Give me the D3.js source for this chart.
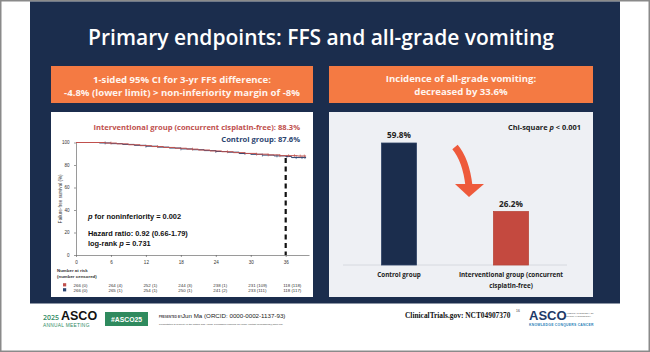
<!DOCTYPE html>
<html>
<head>
<meta charset="utf-8">
<script src="https://cdn.jsdelivr.net/npm/d3@7"></script>
<style>
  html, body { margin: 0; padding: 0; background: #fff; }
  svg { display: block; }
</style>
</head>
<body>
<div id="chart"></div>
<script>
// ---- data ----
const kmMonths = [0, 6, 12, 18, 24, 30, 36];
const kmYTicks = [0, 20, 40, 60, 80, 100];
// step points (month, survival %)
const intTimes = [0, 5, 7, 9, 11, 13, 15, 17, 19, 21, 23, 25, 27, 29, 31, 33, 35, 38, 39.5];
const intSurv = [100, 99.5, 98.8, 98, 97.2, 96.4, 95.6, 94.9, 94.1, 93.3, 92.5, 91.8, 91, 90.3, 89.6, 89, 88.3, 88, 88];
const ctlTimes = [0, 4, 6, 8, 10, 12, 14, 16, 18, 20, 22, 24, 26, 28, 30, 32, 34, 36, 37, 39.5];
const ctlSurv = [100, 99.6, 99, 98.3, 97.5, 96.7, 95.9, 95.1, 94.3, 93.6, 92.8, 92, 91.4, 90.2, 89.5, 88.8, 88.1, 87.6, 86.6, 86.6];
const intCensor = [6, 14, 20, 26, 31, 33, 35, 36.5, 37.5, 38.5, 39.2];
const ctlCensor = [5, 12, 18, 24, 29, 32, 34.5, 36.2, 37.8, 38.8, 39.3];
const riskInt = [266, 264, 252, 244, 238, 231, 118];
const censInt = [0, 4, 1, 3, 1, 109, 118];
const riskCtl = [266, 265, 254, 250, 241, 233, 118];
const censCtl = [0, 1, 1, 1, 2, 111, 117];

const barGroups = ["Control group", "Interventional group (concurrent cisplatin-free)"];
const barValues = [59.8, 26.2];

// ---- colours ----
const navy = "#1b2d4d";
const orange = "#f47a43";
const red = "#c4493f";
const kmRed = "#c0504d";
const kmNavy = "#2b4470";

const W = 650, H = 352;
const svg = d3.select("#chart").append("svg").attr("width", W).attr("height", H);
const FONT = "'Open Sans', 'Noto Sans', sans-serif";
const SANS = "'Liberation Sans', Arial, sans-serif";

svg.append("rect").attr("x", 0.75).attr("y", 0.75).attr("width", W - 1.5).attr("height", H - 1.5)
  .attr("fill", "#fff").attr("stroke", "#8a8a8a").attr("stroke-width", 1.5);
svg.append("rect").attr("x", 30).attr("y", 1.5).attr("width", 590).attr("height", 302).attr("fill", navy);

// title
svg.append("text").attr("x", 321).attr("y", 45).attr("text-anchor", "middle")
  .attr("font-family", FONT).attr("font-weight", 600).attr("font-size", 21).attr("fill", "#fff")
  .text("Primary endpoints: FFS and all-grade vomiting");

// orange header boxes
const boxes = [
  { x: 51, w: 262, lines: ["1-sided 95% CI for 3-yr FFS difference:", "-4.8% (lower limit) > non-inferiority margin of -8%"], ys: [82.5, 95.5] },
  { x: 329, w: 264, lines: ["Incidence of all-grade vomiting:", "decreased by 33.6%"], ys: [81.5, 94.5] }
];
boxes.forEach(b => {
  const g = svg.append("g");
  g.append("rect").attr("x", b.x).attr("y", 66).attr("width", b.w).attr("height", 37).attr("fill", orange);
  b.lines.forEach((t, i) => {
    g.append("text").attr("x", b.x + b.w / 2).attr("y", b.ys[i]).attr("text-anchor", "middle")
      .attr("font-family", FONT).attr("font-weight", 700).attr("font-size", 9.6).attr("fill", "#fff4ee")
      .text(t);
  });
});

// panels
svg.append("rect").attr("x", 51).attr("y", 112).attr("width", 262).attr("height", 185).attr("fill", "#fff");
svg.append("rect").attr("x", 329).attr("y", 112).attr("width", 264).attr("height", 185).attr("fill", "#eef0f4");

// ---- KM plot ----
const x = d3.scaleLinear().domain([0, 40]).range([76, 309]);
const y = d3.scaleLinear().domain([0, 100]).range([255, 142.5]);

const km = svg.append("g");
km.append("g").attr("transform", `translate(0,${y(0)})`)
  .call(d3.axisBottom(x).tickValues(kmMonths).tickSize(2).tickSizeOuter(0))
  .call(g => g.select(".domain").attr("stroke", "#555").attr("stroke-width", 0.6))
  .call(g => g.selectAll(".tick line").attr("stroke", "#555").attr("stroke-width", 0.6))
  .call(g => g.selectAll("text").attr("font-size", 4.6).attr("font-family", SANS).attr("fill", "#333").attr("dy", "0.9em"));
km.append("g").attr("transform", `translate(${x(0)},0)`)
  .call(d3.axisLeft(y).tickValues(kmYTicks).tickSize(2).tickSizeOuter(0))
  .call(g => g.select(".domain").attr("stroke", "#555").attr("stroke-width", 0.6))
  .call(g => g.selectAll(".tick line").attr("stroke", "#555").attr("stroke-width", 0.6))
  .call(g => g.selectAll("text").attr("font-size", 4.6).attr("font-family", SANS).attr("fill", "#333").attr("dx", "-0.3em"));
km.append("text").attr("transform", `translate(62,${y(50)}) rotate(-90)`).attr("text-anchor", "middle")
  .attr("font-family", SANS).attr("font-size", 4.6).attr("fill", "#333").text("Failure-free survival (%)");

// dashed 36-month line
km.append("line").attr("x1", x(36)).attr("x2", x(36)).attr("y1", y(89) + 3).attr("y2", y(0))
  .attr("stroke", "#111").attr("stroke-width", 2.2).attr("stroke-dasharray", "5,3.5");

const step = d3.line().x(d => x(d[0])).y(d => y(d[1])).curve(d3.curveStepAfter);
const stepAt = (times, surv, t) => surv[d3.bisectRight(times, t) - 1];
[[ctlTimes, ctlSurv, ctlCensor, kmNavy], [intTimes, intSurv, intCensor, kmRed]].forEach(([t, s, c, col]) => {
  km.append("path").attr("d", step(d3.zip(t, s))).attr("fill", "none").attr("stroke", col).attr("stroke-width", 1);
  km.selectAll(null).data(c).join("line")
    .attr("x1", d => x(d)).attr("x2", d => x(d))
    .attr("y1", d => y(stepAt(t, s, d)) - 1.5).attr("y2", d => y(stepAt(t, s, d)) + 1.5)
    .attr("stroke", col).attr("stroke-width", 0.6);
});

// group legend text
km.append("text").attr("x", 300).attr("y", 130).attr("text-anchor", "end")
  .attr("font-family", FONT).attr("font-weight", 700).attr("font-size", 7.6).attr("fill", kmRed)
  .text("Interventional group (concurrent cisplatin-free): 88.3%");
km.append("text").attr("x", 300).attr("y", 142).attr("text-anchor", "end")
  .attr("font-family", FONT).attr("font-weight", 700).attr("font-size", 7.6).attr("fill", kmNavy)
  .text("Control group: 87.6%");

// stats annotations
const ann = km.append("g").attr("font-family", SANS).attr("font-weight", 700).attr("font-size", 7.4).attr("fill", "#111");
const a1 = ann.append("text").attr("x", 88).attr("y", 219);
a1.append("tspan").attr("font-style", "italic").text("p");
a1.append("tspan").text(" for noninferiority = 0.002");
ann.append("text").attr("x", 88).attr("y", 236).text("Hazard ratio: 0.92 (0.66-1.79)");
const a3 = ann.append("text").attr("x", 88).attr("y", 246);
a3.append("tspan").text("log-rank ");
a3.append("tspan").attr("font-style", "italic").text("p");
a3.append("tspan").text(" = 0.731");

// number at risk
const nar = km.append("g").attr("font-family", SANS).attr("font-size", 4.4).attr("fill", "#333");
nar.append("text").attr("x", 57).attr("y", 271.5).attr("font-weight", 700).text("Number at risk");
nar.append("text").attr("x", 57).attr("y", 277.5).attr("font-weight", 700).text("(number censored)");
[[riskInt, censInt, kmRed, 286.5], [riskCtl, censCtl, kmNavy, 291.5]].forEach(([r, c, col, yy]) => {
  nar.append("rect").attr("x", 63).attr("y", yy - 3.3).attr("width", 3.2).attr("height", 3.2).attr("fill", col);
  nar.selectAll(null).data(kmMonths).join("text")
    .attr("x", d => x(d) - 2.5).attr("y", yy)
    .text((d, i) => `${r[i]} (${c[i]})`);
});

// ---- bar chart ----
const bx = d3.scalePoint().domain(barGroups).range([343, 567]).padding(0.5);
const by = d3.scaleLinear().domain([0, 100]).range([265, 61]);
const bw = 35;
const bars = svg.append("g");
bars.append("line").attr("x1", 343).attr("x2", 567).attr("y1", by(0)).attr("y2", by(0))
  .attr("stroke", "#cfd3da").attr("stroke-width", 0.8);
bars.selectAll("rect").data(barValues).join("rect")
  .attr("x", (d, i) => bx(barGroups[i]) - bw / 2).attr("width", bw)
  .attr("y", d => by(d)).attr("height", d => by(0) - by(d))
  .attr("fill", (d, i) => i === 0 ? navy : red)
  .attr("stroke", (d, i) => i === 0 ? "#2e4366" : "#b9473a").attr("stroke-width", 0.8);
bars.selectAll(".val").data(barValues).join("text").attr("class", "val")
  .attr("x", (d, i) => bx(barGroups[i])).attr("y", d => by(d) - 5).attr("text-anchor", "middle")
  .attr("font-family", FONT).attr("font-weight", 700).attr("font-size", 8.2).attr("fill", "#222")
  .text(d => d.toFixed(1) + "%");
// category labels (second one wraps)
const catLines = [["Control group"], ["Interventional group (concurrent", "cisplatin-free)"]];
barGroups.forEach((g, i) => {
  catLines[i].forEach((t, j) => {
    bars.append("text").attr("x", bx(g)).attr("y", 277 + j * 11).attr("text-anchor", "middle")
      .attr("font-family", FONT).attr("font-weight", 700).attr("font-size", 6.3).attr("fill", "#222").text(t);
  });
});
const chi = bars.append("text").attr("x", 581).attr("y", 130).attr("text-anchor", "end")
  .attr("font-family", FONT).attr("font-weight", 700).attr("font-size", 7.4).attr("fill", "#222");
chi.append("tspan").text("Chi-square ");
chi.append("tspan").attr("font-style", "italic").text("p");
chi.append("tspan").text(" < 0.001");

// curved arrow
const arrowCol = "#ee5a3b";
bars.append("path").attr("d", "M455,147 Q466,160 469,186").attr("fill", "none")
  .attr("stroke", arrowCol).attr("stroke-width", 7);
bars.append("path").attr("d", "M455,184 L484,184 L469,197 Z").attr("fill", arrowCol);

// ---- footer ----
const ft = svg.append("g");
ft.append("text").attr("x", 43).attr("y", 320).attr("font-family", FONT).attr("font-weight", 600)
  .attr("font-size", 7).attr("fill", "#2f8a63").text("2025");
ft.append("text").attr("x", 61).attr("y", 320).attr("font-family", SANS).attr("font-weight", 700)
  .attr("font-size", 12.5).attr("fill", "#111").text("ASCO");
ft.append("text").attr("x", 43).attr("y", 327).attr("font-family", SANS)
  .attr("font-size", 4.8).attr("fill", "#2f8a63").attr("letter-spacing", 0.3).text("ANNUAL MEETING");
ft.append("rect").attr("x", 105).attr("y", 312).attr("width", 43).attr("height", 14).attr("fill", "#2f8a5e");
ft.append("text").attr("x", 126.5).attr("y", 322).attr("text-anchor", "middle").attr("font-family", SANS)
  .attr("font-weight", 700).attr("font-size", 6.8).attr("fill", "#fff").text("#ASCO25");
ft.append("text").attr("x", 159).attr("y", 318).attr("font-family", SANS).attr("font-size", 2.6)
  .attr("font-weight", 700).attr("fill", "#333").attr("letter-spacing", 0.25).text("PRESENTED BY:");
ft.append("text").attr("x", 182).attr("y", 318).attr("font-family", SANS).attr("font-size", 6.2)
  .attr("fill", "#222").text("Jun Ma (ORCID: 0000-0002-1137-93)");
ft.append("text").attr("x", 159).attr("y", 325).attr("font-family", SANS).attr("font-size", 2.5)
  .attr("fill", "#444").text("Presentation is property of the author and ASCO. Permission required for reuse; contact permissions@asco.org.");
ft.append("text").attr("x", 405).attr("y", 318).attr("font-family", "'Liberation Serif', 'DejaVu Serif', serif")
  .attr("font-weight", 700).attr("font-size", 7.4).attr("fill", "#111").text("ClinicalTrials.gov: NCT04907370");
ft.append("text").attr("x", 516).attr("y", 312).attr("font-family", SANS).attr("font-size", 3.4)
  .attr("fill", "#333").text("16");
ft.append("text").attr("x", 529).attr("y", 320).attr("font-family", SANS).attr("font-weight", 700)
  .attr("font-size", 13).attr("fill", "#1e3a68").text("ASCO");
["AMERICAN SOCIETY OF", "CLINICAL ONCOLOGY"].forEach((t, i) => {
  ft.append("text").attr("x", 566).attr("y", 313.5 + i * 3.2).attr("font-family", SANS).attr("font-size", 2.4)
    .attr("fill", "#555").text(t);
});
ft.append("text").attr("x", 529).attr("y", 325.5).attr("font-family", SANS).attr("font-weight", 700)
  .attr("font-size", 3.4).attr("fill", "#2a7fb8").attr("letter-spacing", 0.25).text("KNOWLEDGE CONQUERS CANCER");
</script>
</body>
</html>
